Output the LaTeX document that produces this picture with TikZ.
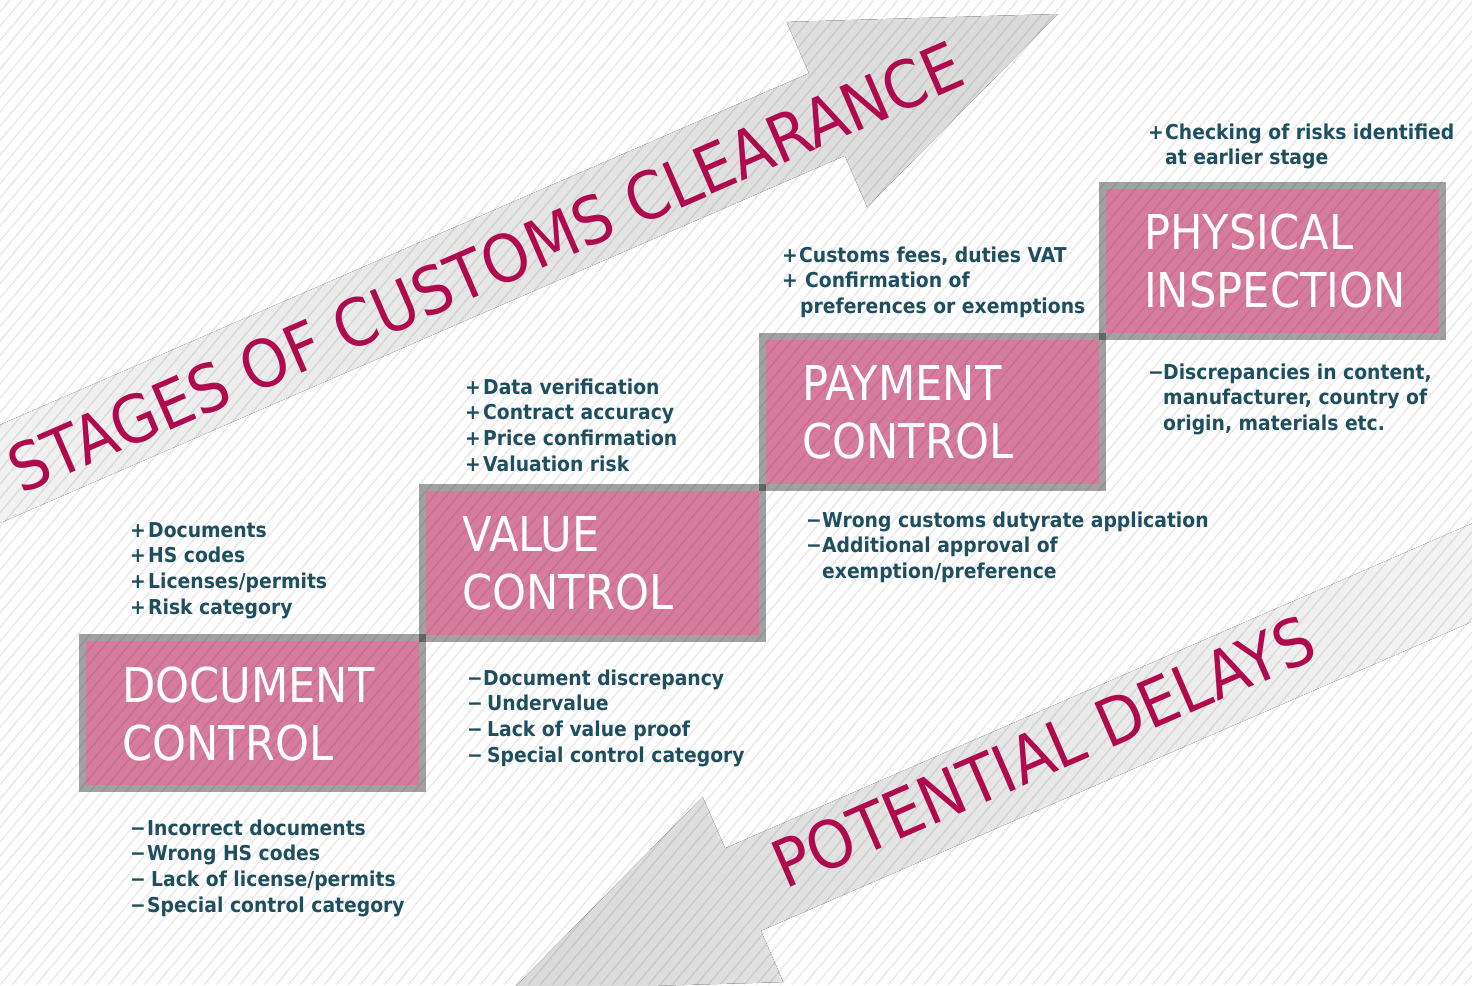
\documentclass[tikz,border=0pt]{standalone}
\usepackage{fontspec}
\setmainfont{DejaVu Sans}[FakeStretch=0.9]
\newfontfamily\titlefont{DejaVu Sans}[FakeStretch=0.92]
\newfontfamily\itemfont{DejaVu Sans}[FakeStretch=0.915]
\usetikzlibrary{calc}
\definecolor{boxpink}{HTML}{D67B9C}
\definecolor{itemteal}{HTML}{1F4E5E}
\definecolor{titlered}{HTML}{B00A4E}
\definecolor{arrowgrey}{HTML}{D9D9D9}
\newcommand\sg[2]{\makebox[#2pt][l]{#1}}
\begin{document}
\begin{tikzpicture}[x=1pt,y=-1pt,
  stagebox/.style={rectangle, minimum width=340pt, minimum height=151pt, inner sep=0pt, outer sep=0pt},
  boxborder/.style={draw=black, draw opacity=0.37, line width=7pt},
  stagelabel/.style={font=\fontsize{48}{58}\selectfont, text=white, anchor=base west, inner sep=0pt},
  itemtext/.style={font=\itemfont\fontsize{20.5}{25.7}\selectfont\bfseries, text=itemteal, anchor=base west, inner sep=0pt},
  titletext/.style={font=\titlefont\fontsize{65.5}{70}\selectfont, text=titlered, anchor=base west, inner sep=0pt, rotate=23.5},
  stripe/.style={draw=black, draw opacity=0.085, line width=1.4pt}
]
\useasboundingbox (0,0) rectangle (1472,985);
\begin{scope}
\clip (0,0) rectangle (1472,985);
\fill[white] (0,0) rectangle (1472,985);

% upper arrow (stages)
\fill[left color=white!96!black, middle color=white!89!black, right color=arrowgrey]
  (-107.9,471.7) -- (809,73.2) -- (786.6,21.9) -- (1058,14) -- (867.2,207.1) -- (844.8,155.8) -- (-72.1,554.3) -- cycle;
% lower arrow (delays)
\fill[left color=arrowgrey, middle color=white!89!black, right color=white!98!black]
  (1642.2,449.5) -- (725.1,848.2) -- (702.7,796.9) -- (511.9,990) -- (783.3,982.1) -- (760.9,930.8) -- (1678,532.1) -- cycle;

% boxes
\node[stagebox] (doc) at (252.5,713) {};
\node[stagebox] (val) at (592.5,562.5) {};
\node[stagebox] (pay) at (932.5,411.5) {};
\node[stagebox] (phy) at (1272.5,260.5) {};
\foreach \b in {doc,val,pay,phy}{
  \fill[boxpink] ([shift={(3.5,3.5)}]\b.north west) rectangle ([shift={(-3.5,-3.5)}]\b.south east);
}
\foreach \b in {doc,val,pay,phy}{
  \draw[boxborder] (\b.north west) rectangle (\b.south east);
}

% stripes
\foreach \i in {-70,...,124}{
  \draw[stripe] ({\i*12},985) -- ++(826,-985);
}
\end{scope}

% box labels
\node[stagelabel] (docl) at ($(doc.north west)+(39.5,64.5)$) {\vtop{\hbox{DOCUMENT}\hbox{CONTROL}}};
\node[stagelabel] (vall) at ($(val.north west)+(39.5,64.5)$) {\vtop{\hbox{VALUE}\hbox{CONTROL}}};
\node[stagelabel] (payl) at ($(pay.north west)+(39.5,64.5)$) {\vtop{\hbox{PAYMENT}\hbox{CONTROL}}};
\node[stagelabel] (phyl) at ($(phy.north west)+(41.5,64.5)$) {\vtop{\hbox{PHYSICAL}\hbox{INSPECTION}}};

% titles
\node[titletext] (t1) at (21,495) {STAGES OF CUSTOMS CLEARANCE};
\node[titletext] (t2) at (785,890) {POTENTIAL DELAYS};

% item lists
\node[itemtext] (dplus) at (130,537) {\vtop{%
  \hbox{\sg{+}{18}Documents}\hbox{\sg{+}{18}HS codes}%
  \hbox{\sg{+}{18}Licenses/permits}\hbox{\sg{+}{18}Risk category}}};
\node[itemtext] (dminus) at (130,835) {\vtop{%
  \hbox{\sg{−}{17}Incorrect documents}\hbox{\sg{−}{17}Wrong HS codes}%
  \hbox{\sg{−}{21}Lack of license/permits}\hbox{\sg{−}{17}Special control category}}};
\node[itemtext] (vplus) at (465,394) {\vtop{%
  \hbox{\sg{+}{18}Data verification}\hbox{\sg{+}{18}Contract accuracy}%
  \hbox{\sg{+}{18}Price confirmation}\hbox{\sg{+}{18}Valuation risk}}};
\node[itemtext] (vminus) at (467,685) {\vtop{%
  \hbox{\sg{−}{16}Document discrepancy}\hbox{\sg{−}{20}Undervalue}%
  \hbox{\sg{−}{20}Lack of value proof}\hbox{\sg{−}{20}Special control category}}};
\node[itemtext] (pplus) at (782,262) {\vtop{%
  \hbox{\sg{+}{17}Customs fees, duties VAT}\hbox{\sg{+}{23}Confirmation of}%
  \hbox{\sg{}{18}preferences or exemptions}}};
\node[itemtext] (pminus) at (806,527) {\vtop{%
  \hbox{\sg{−}{16}Wrong customs dutyrate application}\hbox{\sg{−}{16}Additional approval of}%
  \hbox{\sg{}{16}exemption/preference}}};
\node[itemtext] (iplus) at (1148,139) {\vtop{%
  \hbox{\sg{+}{17}Checking of risks identified}\hbox{\sg{}{17}at earlier stage}}};
\node[itemtext] (iminus) at (1148,379) {\vtop{%
  \hbox{\sg{−}{15}Discrepancies in content,}\hbox{\sg{}{15}manufacturer, country of}%
  \hbox{\sg{}{15}origin, materials etc.}}};
\end{tikzpicture}
\end{document}
